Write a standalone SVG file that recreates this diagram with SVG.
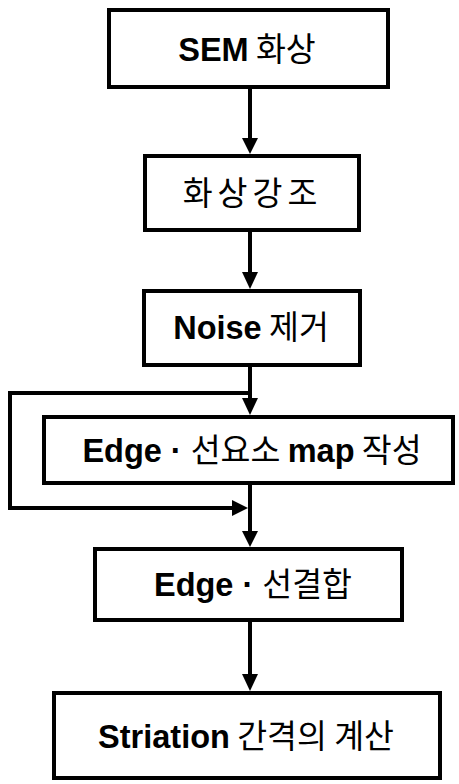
<svg xmlns="http://www.w3.org/2000/svg" width="459" height="784" viewBox="0 0 459 784">
  <style>
    .box { fill: #ffffff; stroke: #000000; stroke-width: 4; }
    .wire { fill: none; stroke: #000000; stroke-width: 4; stroke-linejoin: miter; }
    .head { fill: #000000; stroke: none; }
    .label { font-family: "Liberation Sans", "Noto Sans CJK KR", sans-serif; font-size: 32.5px; fill: #000000; text-anchor: middle; }
    .lat { font-family: "Liberation Sans", Arial, sans-serif; font-weight: bold; }
    .kor { font-family: "Noto Sans CJK KR", sans-serif; font-weight: normal; }
  </style>
  <rect width="459" height="784" fill="#ffffff"/>

  <g id="connectors">
    <line class="wire" x1="250" y1="88" x2="250" y2="140"/>
    <polygon class="head" points="242,138 258,138 250,154"/>
    <line class="wire" x1="250" y1="232" x2="250" y2="274"/>
    <polygon class="head" points="242,272 258,272 250,289"/>
    <line class="wire" x1="250" y1="367" x2="250" y2="400"/>
    <polygon class="head" points="242,398 258,398 250,415"/>
    <polyline class="wire" points="250,393 10,393 10,508 234,508"/>
    <polygon class="head" points="232,500 232,516 248,508"/>
    <line class="wire" x1="250" y1="485" x2="250" y2="533"/>
    <polygon class="head" points="242,531 258,531 250,547"/>
    <line class="wire" x1="250" y1="622" x2="250" y2="676"/>
    <polygon class="head" points="242,674 258,674 250,691"/>
  </g>

  <g id="sem">
    <rect class="box" x="109" y="10" width="279" height="77"/>
    <text class="label" x="247" y="61"><tspan class="lat">SEM</tspan><tspan class="kor"> 화상</tspan></text>
  </g>
  <g id="enhance">
    <rect class="box" x="145" y="156" width="214" height="74"/>
    <text class="label" x="252.5" y="205"><tspan class="kor" letter-spacing="5">화상강조</tspan></text>
  </g>
  <g id="denoise">
    <rect class="box" x="144" y="291" width="216" height="74"/>
    <text class="label" x="251" y="339"><tspan class="lat">Noise</tspan><tspan class="kor"> 제거</tspan></text>
  </g>
  <g id="edgemap">
    <rect class="box" x="44" y="417" width="409" height="66"/>
    <text class="label" x="252" y="462"><tspan class="lat">Edge · </tspan><tspan class="kor">선요소 </tspan><tspan class="lat">map</tspan><tspan class="kor"> 작성</tspan></text>
  </g>
  <g id="linking">
    <rect class="box" x="95" y="549" width="307" height="71"/>
    <text class="label" x="253" y="596"><tspan class="lat">Edge · </tspan><tspan class="kor">선결합</tspan></text>
  </g>
  <g id="spacing">
    <rect class="box" x="54" y="693" width="386" height="85"/>
    <text class="label" x="246" y="748"><tspan class="lat">Striation</tspan><tspan class="kor"> 간격의 계산</tspan></text>
  </g>
</svg>
